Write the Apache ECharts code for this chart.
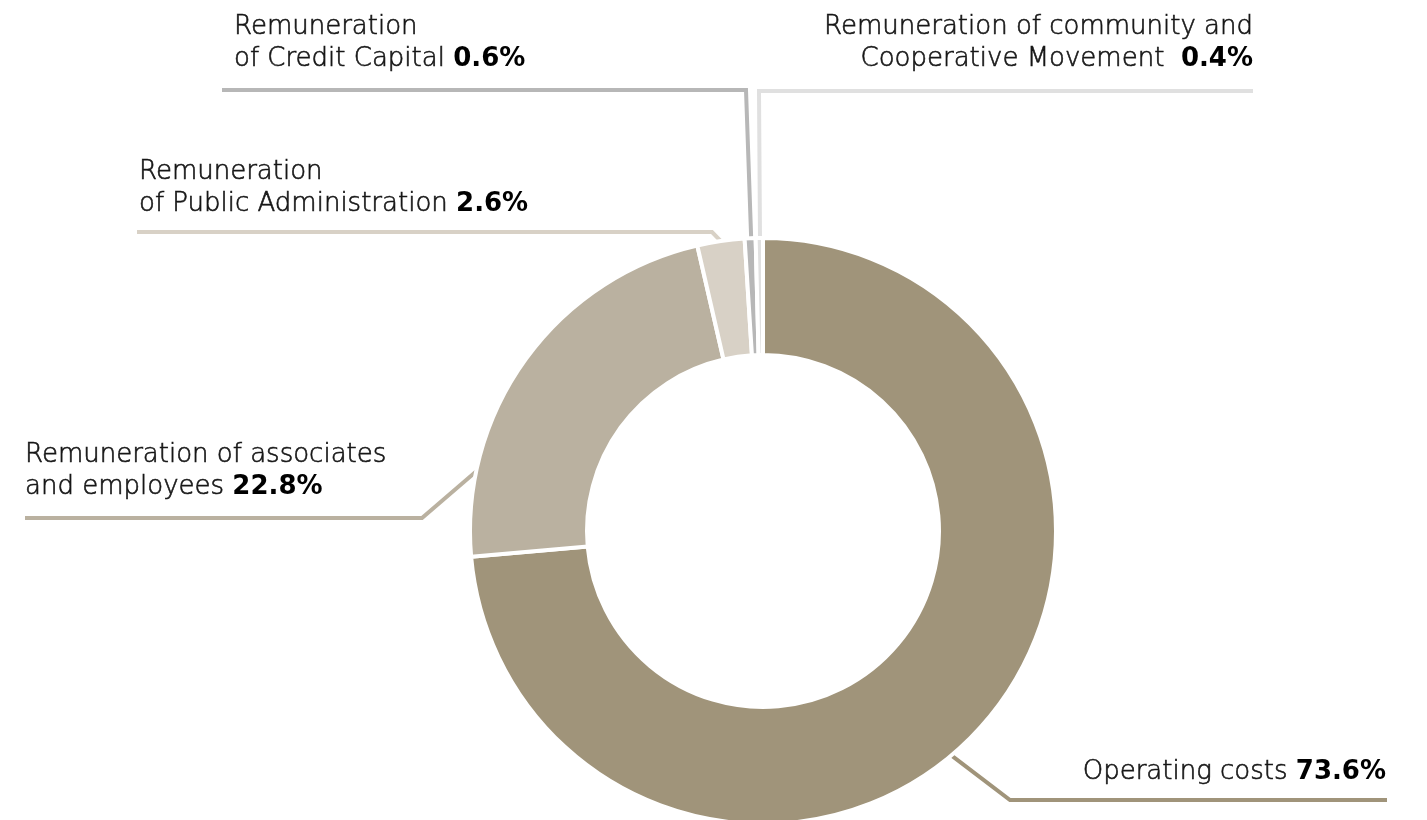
<!DOCTYPE html>
<html><head><meta charset="utf-8">
<script src="https://cdn.jsdelivr.net/npm/echarts@6/dist/echarts.min.js"></script>
<style>html,body{margin:0;padding:0;background:#fff}#c{width:1427px;height:820px}</style>
</head><body><div id="c"></div>
<script>
// ---- data ----
const categories = [
  'Operating costs',
  'Remuneration of associates\nand employees',
  'Remuneration\nof Public Administration',
  'Remuneration\nof Credit Capital',
  'Remuneration of community and\nCooperative Movement '
];
const values = [73.6, 22.8, 2.6, 0.6, 0.4];

// ---- styling / layout ----
const colors = ['#a0947a', '#bab1a0', '#d8d1c6', '#b7b7b7', '#e0e0e0'];
const FONT = "'DejaVu Sans ExtraLight', 'DejaVu Sans', sans-serif";
const BFONT = "'DejaVu Sans', sans-serif";
const FS = 26;
const TEXT_COLOR = '#161616';
const CX = 763, CY = 531, R0 = 176, R1 = 293;
// angle: degrees clockwise from top (null = slice middle); inner: start at inner radius
// gap: distance from last text baseline to the guide line
const guides = [
  { angle: 140.0, inner: false, elbow: [1010, 800], endX: 1387, align: 'right', textX: 1386, gap: 20 },
  { angle: 281.7, inner: false, elbow: [422, 518], endX: 25, align: 'left', textX: 25, gap: 23 },
  { angle: null, inner: false, elbow: [712, 232], endX: 137, align: 'left', textX: 139, gap: 20 },
  { angle: null, inner: true, elbow: [746, 90], endX: 222, align: 'left', textX: 234, gap: 23 },
  { angle: null, inner: true, elbow: [759, 91], endX: 1253, align: 'right', textX: 1253, gap: 24 }
];
const DESC = 8; // approx. distance from text baseline to label box bottom
const total = values.reduce((a, b) => a + b, 0);
function midAngle(i) {
  let before = 0;
  for (let k = 0; k < i; k++) before += values[k];
  return (before + values[i] / 2) / total * 360;
}

const chart = echarts.init(document.getElementById('c'), null, { renderer: 'canvas' });
chart.setOption({
  backgroundColor: '#ffffff',
  animation: false,
  series: [{
    type: 'pie',
    center: [CX, CY],
    radius: [R0, R1],
    startAngle: 90,
    clockwise: true,
    avoidLabelOverlap: false,
    emphasis: { disabled: true },
    itemStyle: { borderColor: '#ffffff', borderWidth: 4 },
    data: categories.map((n, i) => ({ name: n, value: values[i], itemStyle: { color: colors[i] } })),
    label: {
      show: true,
      position: 'outside',
      fontFamily: FONT,
      fontSize: FS,
      fontWeight: 200,
      lineHeight: 32,
      color: TEXT_COLOR,
      textBorderColor: TEXT_COLOR,
      textBorderWidth: 0.6,
      formatter: p => p.name + ' {b|' + p.value.toFixed(1) + '%}',
      rich: {
        b: { fontFamily: BFONT, fontSize: FS, fontWeight: 'bold', lineHeight: 32, color: '#000', textBorderWidth: 0, textBorderColor: 'transparent' }
      }
    },
    labelLine: { show: true, lineStyle: { width: 4 } },
    labelLayout: function (p) {
      const g = guides[p.dataIndex];
      const a = (g.angle != null ? g.angle : midAngle(p.dataIndex)) * Math.PI / 180;
      const r = g.inner ? R0 : R1;
      const s = [CX + r * Math.sin(a), CY - r * Math.cos(a)];
      return {
        x: g.textX,
        y: g.elbow[1] - g.gap + DESC,
        align: g.align,
        verticalAlign: 'bottom',
        labelLinePoints: [s, g.elbow, [g.endX, g.elbow[1]]]
      };
    }
  }]
});
</script></body></html>
